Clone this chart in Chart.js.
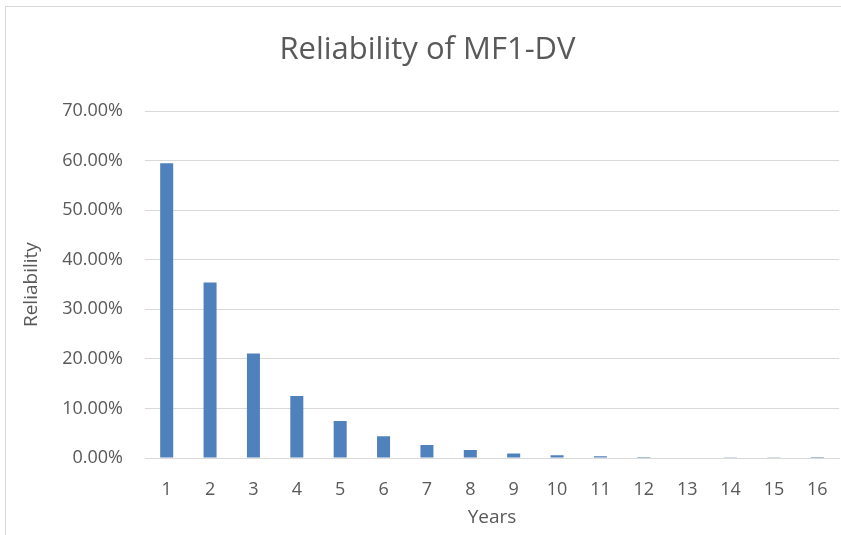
<!DOCTYPE html>
<html>
<head>
<meta charset="utf-8">
<script src="https://cdn.jsdelivr.net/npm/chart.js@4"></script>
<style>
  html, body { margin: 0; padding: 0; background: #fff; }
  #wrap { position: relative; width: 841px; height: 535px; }
  #frame { position: absolute; left: 5px; top: 6px; width: 850px; height: 540px; border: 1px solid #d9d9d9; }
  canvas { position: absolute; left: 0; top: 0; }
</style>
</head>
<body>
<div id="wrap">
  <div id="frame"></div>
  <canvas id="chart" width="841" height="535"></canvas>
</div>
<script>
// data
const years = ['1','2','3','4','5','6','7','8','9','10','11','12','13','14','15','16'];
const reliability = [0.595, 0.354, 0.211, 0.125, 0.0745, 0.044, 0.026, 0.016, 0.0093, 0.0055, 0.0033, 0.002, 0.0012, 0.0007, 0.0004, 0.0002];
const yTicks = [0, 0.1, 0.2, 0.3, 0.4, 0.5, 0.6, 0.7];

const fontFamily = "'Open Sans', 'Noto Sans', sans-serif";
const grey = '#595959';

onload = () => {
    const ctx = document.getElementById('chart');
    new Chart(ctx, {
        type: 'bar',
        data: {
            labels: years,
            datasets: [{
                label: 'Reliability',
                data: reliability,
                backgroundColor: '#4f81bd',
                borderWidth: 0,
                barPercentage: 0.3,
                categoryPercentage: 1
            }]
        },
        options: {
            responsive: false,
            animation: false,
            layout: { padding: { left: 16, right: 2, top: 30, bottom: 6 } },
            plugins: {
                legend: { display: false },
                tooltip: { enabled: false },
                title: {
                    display: true,
                    text: 'Reliability of MF1-DV',
                    color: grey,
                    font: { family: fontFamily, size: 31, weight: 'normal' },
                    padding: { top: 2, bottom: 42 }
                }
            },
            scales: {
                x: {
                    afterFit: axis => {
                        axis.height = 71;
                        axis.paddingLeft = 0;
                        axis.paddingRight = 0;
                    },
                    grid: { display: false, drawTicks: false },
                    border: { color: '#d9d9d9' },
                    ticks: { color: grey, font: { family: fontFamily, size: 18 }, padding: 21, maxRotation: 0 },
                    title: { display: true, text: 'Years', color: grey, font: { family: fontFamily, size: 19 }, padding: { top: 0, bottom: 0 } }
                },
                y: {
                    min: 0,
                    max: 0.7,
                    afterBuildTicks: axis => { axis.ticks = yTicks.map(v => ({ value: v })); },
                    afterFit: axis => { axis.width = 129; },
                    grid: { color: '#d9d9d9', lineWidth: 1, drawTicks: false },
                    border: { display: false },
                    ticks: {
                        color: grey,
                        font: { family: fontFamily, size: 18 },
                        padding: 22,
                        callback: v => (v * 100).toFixed(2) + '%'
                    },
                    title: { display: true, text: 'Reliability', color: grey, font: { family: fontFamily, size: 19 }, padding: { bottom: 0 } }
                }
            }
        }
    });
};
</script>
</body>
</html>
